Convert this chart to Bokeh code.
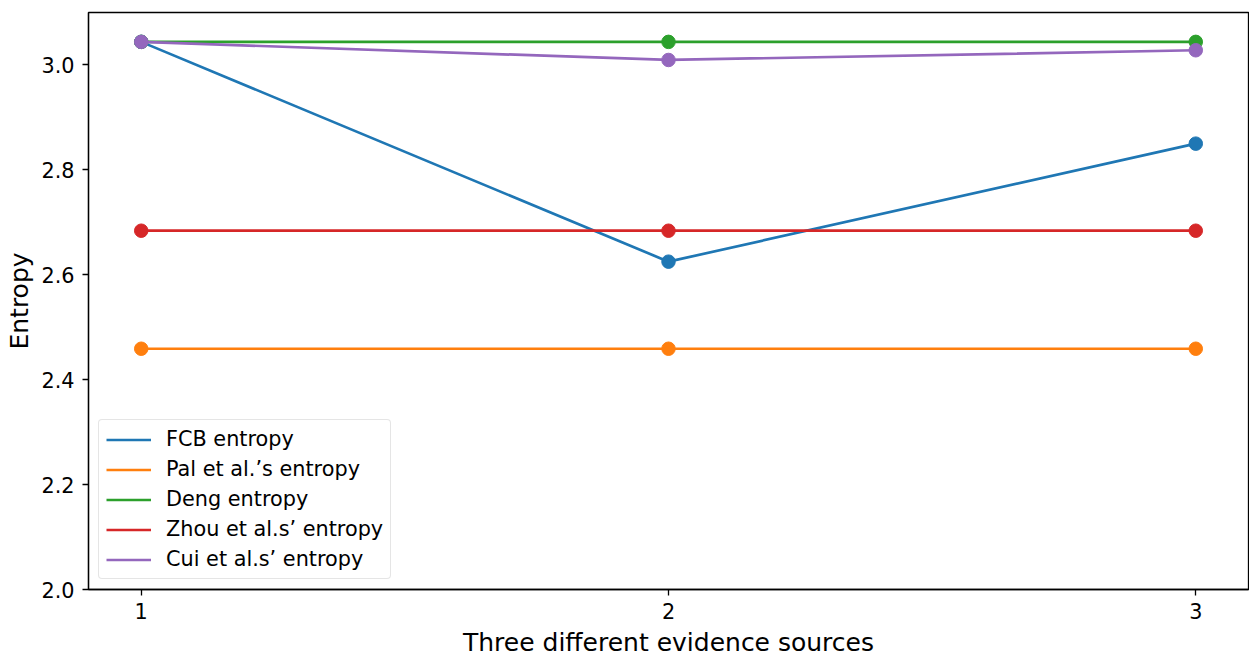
from bokeh.plotting import figure
from bokeh.models import Range1d, FixedTicker, PrintfTickFormatter, Legend, LegendItem
from bokeh.embed import file_html
from bokeh.resources import INLINE

sources = [1, 2, 3]
fcb = [3.044, 2.625, 2.850]
pal = [2.459, 2.459, 2.459]
deng = [3.044, 3.044, 3.044]
zhou = [2.684, 2.684, 2.684]
cui = [3.044, 3.0095, 3.028]

names = ["FCB entropy", "Pal et al.\u2019s entropy", "Deng entropy",
         "Zhou et al.s\u2019 entropy", "Cui et al.s\u2019 entropy"]
colors = ["#1f77b4", "#ff7f0e", "#2ca02c", "#d62728", "#9467bd"]
series = [fcb, pal, deng, zhou, cui]
y_ticks = [2.0, 2.2, 2.4, 2.6, 2.8, 3.0]

FONT = "DejaVu Sans"

p = figure(frame_width=1160, frame_height=577, output_backend="svg", toolbar_location=None,
           x_range=Range1d(0.9, 3.1), y_range=Range1d(2.0, 3.1),
           min_border_left=88, min_border_right=1, min_border_top=12, min_border_bottom=60)
p.xgrid.visible = False
p.ygrid.visible = False
p.outline_line_color = "black"
p.outline_line_width = 1.3
p.background_fill_color = "white"
p.border_fill_color = "white"

items = []
for name, col, ys in zip(names, colors, series):
    r = p.line(sources, ys, line_color=col, line_width=2.7)
    p.scatter(sources, ys, size=13.5, fill_color=col, line_color=col)
    items.append(LegendItem(label=name, renderers=[r]))

for ax in (p.xaxis[0], p.yaxis[0]):
    ax.axis_line_color = "black"
    ax.axis_line_width = 1.3
    ax.major_tick_line_color = "black"
    ax.major_tick_line_width = 1.3
    ax.major_tick_out = 6
    ax.major_tick_in = 0
    ax.minor_tick_line_color = None
    ax.major_label_text_font = FONT
    ax.major_label_text_font_size = "20.8px"
    ax.major_label_text_color = "black"
    ax.axis_label_text_font = FONT
    ax.axis_label_text_font_size = "25px"
    ax.axis_label_text_font_style = "normal"
    ax.axis_label_text_color = "black"

p.xaxis.ticker = FixedTicker(ticks=sources)
p.xaxis.formatter = PrintfTickFormatter(format="%d")
p.xaxis.axis_label = "Three different evidence sources"
p.xaxis.major_label_standoff = 7
p.xaxis.axis_label_standoff = 6

p.yaxis.ticker = FixedTicker(ticks=y_ticks)
p.yaxis.formatter = PrintfTickFormatter(format="%.1f")
p.yaxis.axis_label = "Entropy"
p.yaxis.major_label_standoff = 8
p.yaxis.axis_label_standoff = 4

legend = Legend(items=items, location="bottom_left")
legend.margin = 10
legend.padding = 7
legend.spacing = 6
legend.label_height = 21
legend.glyph_height = 21
legend.glyph_width = 45
legend.label_standoff = 15
legend.label_text_font = FONT
legend.label_text_font_size = "20.8px"
legend.label_text_color = "black"
legend.border_line_color = "#cccccc"
legend.border_line_width = 1.3
legend.background_fill_alpha = 0.8
try:
    legend.border_radius = 4
except Exception:
    pass
p.add_layout(legend)

open("out.html", "w").write(file_html(p, INLINE))
